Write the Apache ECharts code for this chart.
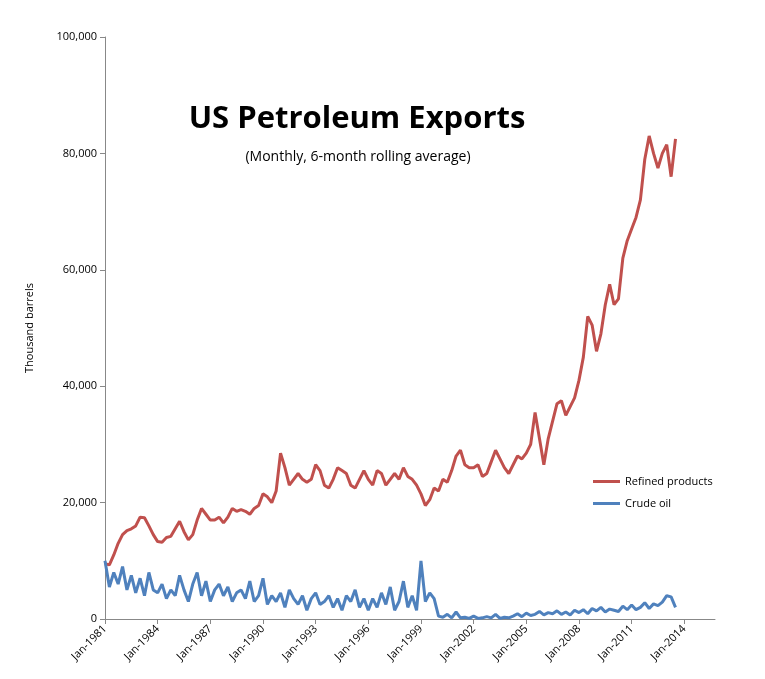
<!DOCTYPE html>
<html><head><meta charset="utf-8">
<script src="https://cdn.jsdelivr.net/npm/echarts@6/dist/echarts.min.js"></script>
<style>html,body{margin:0;padding:0;background:#fff}#c{width:765px;height:679px}</style>
</head><body><div id="c"></div>
<script>
// quarterly, thousand barrels (values in thousands)
const refinedK = [
9.5,9.3,11,13, 14.5,15.2,15.5,16, 17.5,17.4,16,14.5, 13.3,13.2,14,14.2,
15.5,16.8,15,13.6, 14.5,17,19,18, 17,17,17.5,16.5, 17.5,19,18.5,18.8,
18.5,18,19,19.5, 21.5,21,20,22, 28.5,26,23,24, 25,24,23.5,24,
26.5,25.5,23,22.5, 24,26,25.5,25, 23,22.5,24,25.5, 24,23,25.5,25,
23,24,25,24, 26,24.5,24,23, 21.5,19.5,20.5,22.5, 22,24,23.5,25.5,
28,29,26.5,26, 26,26.5,24.5,25, 27,29,27.5,26, 25,26.5,28,27.5,
28.5,30,35.5,31, 26.5,31,34,37, 37.5,35,36.5,38, 41,45,52,50.5,
46,49,54,57.5, 54,55,62,65, 67,69,72,79, 83,80,77.5,80, 81.5,76,82.5];
const crudeK = [
10,5.5,8,6, 9,5,7.5,4.5, 7,4,8,5, 4.5,6,3.5,5, 4,7.5,5,3, 6,8,4,6.5,
3,5,6,4, 5.5,3,4.5,5, 3.5,6.5,3,4, 7,2.5,4,3, 4.5,2,5,3.5, 2.5,4,1.5,3.5,
4.5,2.5,3,4, 2,3.5,1.5,4, 3,5,2,3.5, 1.5,3.5,2,4.5, 2.5,5.5,1.5,3, 6.5,2,4,1.5,
10,3,4.5,3.5, 0.5,0.3,0.8,0.2, 1.2,0.2,0.3,0.1, 0.5,0.1,0.2,0.4, 0.2,0.8,0.1,0.3,
0.2,0.5,0.9,0.4, 1,0.6,0.8,1.3, 0.7,1.1,0.9,1.4, 0.8,1.2,0.7,1.5, 1.1,1.6,0.9,1.8,
1.4,2,1.2,1.7, 1.5,1.3,2.2,1.6, 2.4,1.6,2,2.8, 1.8,2.6,2.3,2.9, 4,3.8,2];
const months = ['Jan','Apr','Jul','Oct'];
const categories = [];
for (let y = 1981; categories.length < 140; y++) for (const m of months) if (categories.length < 140) categories.push(m + '-' + y);
const refined = refinedK.map(v => v * 1000);
const crude = crudeK.map(v => v * 1000);
const font = '"Open Sans", "Liberation Sans", sans-serif';
const chart = echarts.init(document.getElementById('c'));
chart.setOption({
  animation: false,
  textStyle: { fontFamily: font },
  title: [
    { text: 'US Petroleum Exports', left: 352, top: 99, textAlign: 'center',
      textStyle: { fontSize: 31, fontWeight: 'bold', color: '#000', fontFamily: font } },
    { text: '(Monthly, 6-month rolling average)', left: 353, top: 145, textAlign: 'center',
      textStyle: { fontSize: 14, fontWeight: 'normal', color: '#000', fontFamily: font } }
  ],
  legend: { orient: 'vertical', left: 588, top: 471, itemGap: 11, itemWidth: 27, itemHeight: 3,
    icon: 'rect', textStyle: { fontSize: 11, color: '#000' },
    data: ['Refined products', 'Crude oil'] },
  grid: { left: 105, right: 50, top: 37, bottom: 60 },
  xAxis: { type: 'category', data: categories, boundaryGap: false,
    axisLine: { lineStyle: { color: '#888' } },
    axisTick: { interval: 11, length: 5, lineStyle: { color: '#888' } },
    axisLabel: { interval: 11, rotate: 45, fontSize: 11, color: '#000', margin: 8 } },
  yAxis: { type: 'value', min: 0, max: 100000, interval: 20000,
    name: 'Thousand barrels', nameLocation: 'middle', nameGap: 70, nameRotate: 90,
    nameTextStyle: { fontSize: 11, color: '#000' },
    axisLine: { show: true, lineStyle: { color: '#888' } },
    axisTick: { show: true, length: 5, lineStyle: { color: '#888' } },
    splitLine: { show: false },
    axisLabel: { fontSize: 11, color: '#000', formatter: v => v.toLocaleString('en-US') } },
  series: [
    { name: 'Refined products', type: 'line', data: refined, showSymbol: false,
      lineStyle: { color: '#C0504D', width: 3 }, itemStyle: { color: '#C0504D' } },
    { name: 'Crude oil', type: 'line', data: crude, showSymbol: false,
      lineStyle: { color: '#4F81BD', width: 3 }, itemStyle: { color: '#4F81BD' } }
  ]
});
</script></body></html>
